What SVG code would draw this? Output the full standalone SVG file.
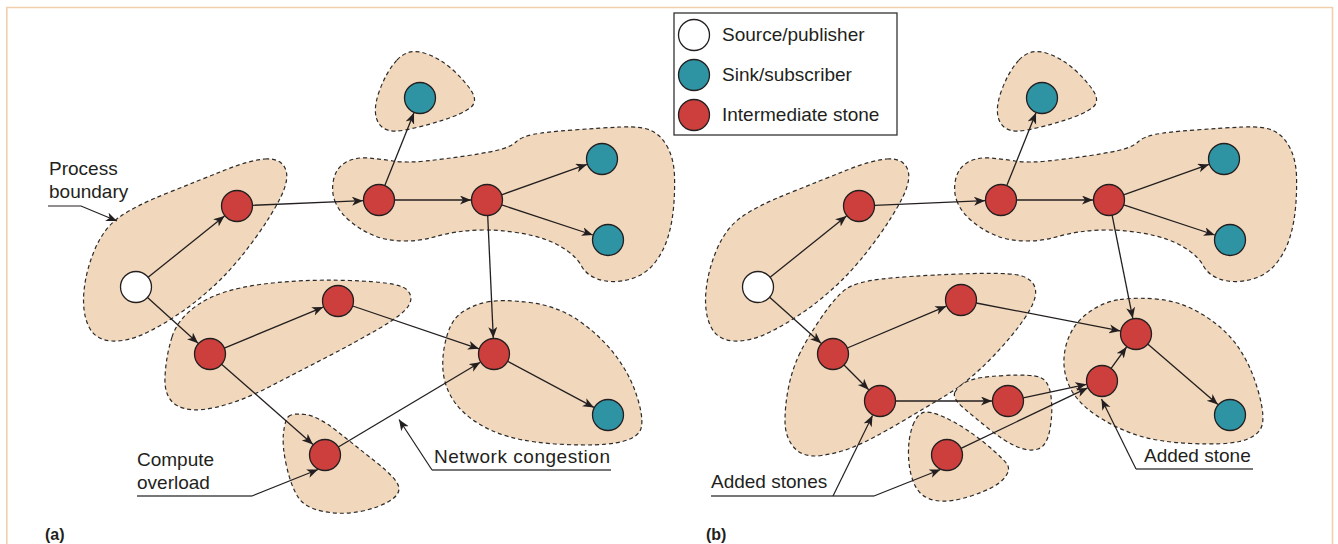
<svg xmlns="http://www.w3.org/2000/svg" width="1338" height="544" viewBox="0 0 1338 544">
<style>
.blob{fill:#f1d7bb;stroke:#2b2b2b;stroke-width:1.2;stroke-dasharray:4 3}
.src{fill:#ffffff;stroke:#231f20;stroke-width:1.3}
.sink{fill:#2e93a3;stroke:#231f20;stroke-width:1.3}
.mid{fill:#cc3f3c;stroke:#231f20;stroke-width:1.3}
.edge{fill:none;stroke:#231f20;stroke-width:1.3;marker-end:url(#arr)}
.lead{fill:none;stroke:#231f20;stroke-width:1.2}
.ul{fill:none;stroke:#4a4a4a;stroke-width:1.6}
.lbl{font-family:"Liberation Sans",Arial,sans-serif;font-size:19px;fill:#231f20}
.cap{font-family:"Liberation Sans",Arial,sans-serif;font-size:16px;font-weight:bold;fill:#231f20}
</style>
<defs>
<marker id="arr" markerUnits="userSpaceOnUse" markerWidth="12" markerHeight="10" refX="11" refY="4.5" orient="auto">
<path d="M0,0 L11,4.5 L0,9 L3,4.5 Z" fill="#231f20"/>
</marker>
<path id="blobL" d="M265,159 Q280,158 285,168 Q290,178 281,196.5 Q272,215 255,238.5 Q238,262 221.5,278.5 Q205,295 186.5,308.5 Q168,322 148,332 Q128,342 111.5,341 Q95,340 88.5,326 Q82,312 84,291 Q86,270 95,249 Q104,228 119.5,217 Q135,206 167.5,193 Q200,180 225,170 Q250,160 265,159 Z"/>
<path id="blobS" d="M397,60 Q408,48 424,53 Q440,58 453,70 Q466,82 472,92 Q478,102 470,108 Q462,114 443.5,120 Q425,126 405,130 Q385,134 378.5,123 Q372,112 379,92 Q386,72 397,60 Z"/>
<path id="blobT" d="M335.5,202.5 Q331,192 333.5,180 Q336,168 345.5,162.5 Q355,157 367.5,158 Q380,159 393,161 Q406,163 425.5,161 Q445,159 468.5,155.5 Q492,152 502,149 Q512,146 516.5,141.5 Q521,137 533,134.5 Q545,132 572.5,130 Q600,128 621,127 Q642,126 652,131 Q662,136 668,148 Q674,160 674.5,176 Q675,192 673.5,208 Q672,224 668,237 Q664,250 656.5,260.5 Q649,271 638.5,276 Q628,281 616,281.5 Q604,282 595,278 Q586,274 581.5,266 Q577,258 567.5,251 Q558,244 545.5,239.5 Q533,235 516.5,232.5 Q500,230 485,230 Q470,230 457,232 Q444,234 432,237.5 Q420,241 404,241 Q388,241 375,236 Q362,231 351,222 Q340,213 335.5,202.5 Z"/>
</defs>

<path id="frame" d="M6.8,544 V7.5 H1332.5 V544" fill="none" stroke="#f2cfac" stroke-width="1.6"/>

<g id="boundaries">
<use href="#blobL" class="blob"/>
<use href="#blobS" class="blob"/>
<use href="#blobT" class="blob"/>
<path class="blob" d="M172,337 Q178,318 199,304 Q220,290 260,284.5 Q300,279 349,280.5 Q398,282 406,289 Q414,296 409,305 Q404,314 380,328 Q356,342 327,357 Q298,372 269,387 Q240,402 215,407.5 Q190,413 177,405.5 Q164,398 165,377 Q166,356 172,337 Z"/>
<path class="blob" d="M487,302 Q502,299 530,302.5 Q558,306 580,321.5 Q602,337 617,357.5 Q632,378 638.5,401.5 Q645,425 639,432.5 Q633,440 615.5,443 Q598,446 565,444.5 Q532,443 510,437 Q488,431 471,418.5 Q454,406 447,388 Q440,370 444.5,346 Q449,322 460.5,313.5 Q472,305 487,302 Z"/>
<path class="blob" d="M288.5,416.5 Q292,413 305,414.5 Q318,416 337.5,431.5 Q357,447 376.5,462.5 Q396,478 398.5,486 Q401,494 389.5,501 Q378,508 360,511.5 Q342,515 323.5,511.5 Q305,508 298,497 Q291,486 286.5,466 Q282,446 283.5,433 Q285,420 288.5,416.5 Z"/>
<use href="#blobL" class="blob" transform="translate(622,0)"/>
<use href="#blobS" class="blob" transform="translate(622,0)"/>
<use href="#blobT" class="blob" transform="translate(622,0)"/>
<path class="blob" d="M799,355 Q806,340 821,318 Q836,296 846,289 Q856,282 881.5,279 Q907,276 958.5,274 Q1010,272 1022,276 Q1034,280 1035.5,290 Q1037,300 1024.5,318.5 Q1012,337 990,359.5 Q968,382 946.5,395 Q925,408 899.5,423 Q874,438 857,445.5 Q840,453 821.5,455.5 Q803,458 794,447.5 Q785,437 785,421 Q785,405 788.5,387.5 Q792,370 799,355 Z"/>
<path class="blob" d="M955,392 Q958,386 967,381.5 Q976,377 1004,375.5 Q1032,374 1040.5,377.5 Q1049,381 1051,396.5 Q1053,412 1050,429 Q1047,446 1038,449 Q1029,452 1016.5,446.5 Q1004,441 989,429 Q974,417 963,407.5 Q952,398 955,392 Z"/>
<path class="blob" d="M913,425 Q918,412 926.5,412 Q935,412 952,421 Q969,430 986.5,444.5 Q1004,459 1007.5,465 Q1011,471 1003,479.5 Q995,488 972.5,495.5 Q950,503 935.5,500.5 Q921,498 915,485.5 Q909,473 908.5,455.5 Q908,438 913,425 Z"/>
<path class="blob" d="M1120,299.5 Q1138,297 1160.5,299.5 Q1183,302 1205,316 Q1227,330 1239.5,349 Q1252,368 1259,394 Q1266,420 1260.5,429 Q1255,438 1239.5,441.5 Q1224,445 1191,443.5 Q1158,442 1136.5,435 Q1115,428 1095,414.5 Q1075,401 1068,383 Q1061,365 1066,345.5 Q1071,326 1086.5,314 Q1102,302 1120,299.5 Z"/>
</g>

<g id="connectors">
<line class="edge" x1="148.1" y1="277.3" x2="224.5" y2="216"/>
<line class="edge" x1="252.5" y1="205.3" x2="363" y2="200.7"/>
<line class="edge" x1="394.5" y1="200" x2="471" y2="200"/>
<line class="edge" x1="384.8" y1="185.6" x2="414" y2="112.8"/>
<line class="edge" x1="501.6" y1="194.8" x2="586.9" y2="164.4"/>
<line class="edge" x1="501.7" y1="204.9" x2="592.8" y2="235"/>
<line class="edge" x1="487.7" y1="215.5" x2="493.3" y2="338"/>
<line class="edge" x1="147.5" y1="297.4" x2="198.1" y2="343.3"/>
<line class="edge" x1="224.3" y1="348.1" x2="323.2" y2="307.1"/>
<line class="edge" x1="352.7" y1="306" x2="478.9" y2="348.8"/>
<line class="edge" x1="221.6" y1="364.2" x2="313" y2="444.4"/>
<line class="edge" x1="338.3" y1="447" x2="480.3" y2="362.2"/>
<line class="edge" x1="507.7" y1="361.3" x2="593.9" y2="407.4"/>

<line class="edge" x1="770.1" y1="277.3" x2="846.5" y2="216"/>
<line class="edge" x1="874.5" y1="205.3" x2="985" y2="200.7"/>
<line class="edge" x1="1016.5" y1="200" x2="1093" y2="200"/>
<line class="edge" x1="1006.8" y1="185.6" x2="1036" y2="112.8"/>
<line class="edge" x1="1123.6" y1="194.8" x2="1208.9" y2="164.4"/>
<line class="edge" x1="1123.7" y1="204.9" x2="1214.8" y2="235"/>
<line class="edge" x1="1112.1" y1="215.2" x2="1132.8" y2="318.3"/>
<line class="edge" x1="769.6" y1="297.3" x2="821.1" y2="343.3"/>
<line class="edge" x1="847.3" y1="348" x2="946.3" y2="306.2"/>
<line class="edge" x1="844" y1="365" x2="868.7" y2="389.7"/>
<line class="edge" x1="976.2" y1="303" x2="1120.3" y2="330.9"/>
<line class="edge" x1="895.5" y1="401" x2="992" y2="401"/>
<line class="edge" x1="1023.2" y1="397.8" x2="1086.4" y2="384.3"/>
<line class="edge" x1="961" y1="448.3" x2="1087.6" y2="387.9"/>
<line class="edge" x1="1111.1" y1="368.4" x2="1126.6" y2="347"/>
<line class="edge" x1="1147.7" y1="344.1" x2="1217.9" y2="404.6"/>
</g>

<g id="node-a-source"><circle class="src" cx="136" cy="287" r="15.5"/></g>
<g id="node-a-1"><circle class="mid" cx="237" cy="206" r="15.5"/></g>
<g id="node-a-2"><circle class="mid" cx="379" cy="200" r="15.5"/></g>
<g id="node-a-3"><circle class="mid" cx="487" cy="200" r="15.5"/></g>
<g id="node-a-sink1"><circle class="sink" cx="420" cy="98" r="15.5"/></g>
<g id="node-a-sink2"><circle class="sink" cx="602" cy="159" r="15.5"/></g>
<g id="node-a-sink3"><circle class="sink" cx="608" cy="240" r="15.5"/></g>
<g id="node-a-4"><circle class="mid" cx="338" cy="301" r="15.5"/></g>
<g id="node-a-5"><circle class="mid" cx="210" cy="354" r="15.5"/></g>
<g id="node-a-6"><circle class="mid" cx="494" cy="354" r="15.5"/></g>
<g id="node-a-sink4"><circle class="sink" cx="608" cy="415" r="15.5"/></g>
<g id="node-a-7"><circle class="mid" cx="325" cy="455" r="15.5"/></g>

<g id="node-b-source"><circle class="src" cx="758" cy="287" r="15.5"/></g>
<g id="node-b-1"><circle class="mid" cx="859" cy="206" r="15.5"/></g>
<g id="node-b-2"><circle class="mid" cx="1001" cy="200" r="15.5"/></g>
<g id="node-b-3"><circle class="mid" cx="1109" cy="200" r="15.5"/></g>
<g id="node-b-sink1"><circle class="sink" cx="1042" cy="98" r="15.5"/></g>
<g id="node-b-sink2"><circle class="sink" cx="1224" cy="159" r="15.5"/></g>
<g id="node-b-sink3"><circle class="sink" cx="1230" cy="240" r="15.5"/></g>
<g id="node-b-4"><circle class="mid" cx="833" cy="354" r="15.5"/></g>
<g id="node-b-5"><circle class="mid" cx="961" cy="300" r="15.5"/></g>
<g id="node-b-6"><circle class="mid" cx="880" cy="401" r="15.5"/></g>
<g id="node-b-7"><circle class="mid" cx="1008" cy="401" r="15.5"/></g>
<g id="node-b-8"><circle class="mid" cx="1136" cy="334" r="15.5"/></g>
<g id="node-b-9"><circle class="mid" cx="1102" cy="381" r="15.5"/></g>
<g id="node-b-sink4"><circle class="sink" cx="1230" cy="415" r="15.5"/></g>
<g id="node-b-10"><circle class="mid" cx="947" cy="455" r="15.5"/></g>

<g id="annotations">
<text class="lbl" x="49" y="175">Process</text>
<text class="lbl" x="49" y="198">boundary</text>
<polyline class="lead" points="48,206 81,206 117,221" marker-end="url(#arr)"/>
<text class="lbl" x="137" y="466">Compute</text>
<text class="lbl" x="137" y="489">overload</text>
<polyline class="ul" points="137,496 252,496"/>
<polyline class="lead" points="252,496 318,469.5" marker-end="url(#arr)"/>
<text class="lbl" x="434" y="463" textLength="176" lengthAdjust="spacing">Network congestion</text>
<polyline class="ul" points="611,470 432,470"/>
<polyline class="lead" points="432,470 399,419.5" marker-end="url(#arr)"/>
<text class="lbl" x="711" y="488">Added stones</text>
<polyline class="ul" points="711,496 874,496"/>
<polyline class="lead" points="833,496 872.5,415.5" marker-end="url(#arr)"/>
<polyline class="lead" points="874,496 940.5,469.5" marker-end="url(#arr)"/>
<text class="lbl" x="1144" y="462">Added stone</text>
<polyline class="ul" points="1136,469 1253,469"/>
<polyline class="lead" points="1136,469 1101.5,399" marker-end="url(#arr)"/>
<text class="cap" x="45" y="540">(a)</text>
<text class="cap" x="706" y="540">(b)</text>
</g>

<g id="legend">
<rect x="674" y="13" width="223" height="122" fill="#ffffff" stroke="#333333" stroke-width="1.3"/>
<circle class="src" cx="694" cy="35" r="15.5"/>
<text class="lbl" x="722" y="41">Source/publisher</text>
<circle class="sink" cx="694" cy="75" r="15.5"/>
<text class="lbl" x="722" y="81">Sink/subscriber</text>
<circle class="mid" cx="694" cy="115" r="15.5"/>
<text class="lbl" x="722" y="121">Intermediate stone</text>
</g>
</svg>
